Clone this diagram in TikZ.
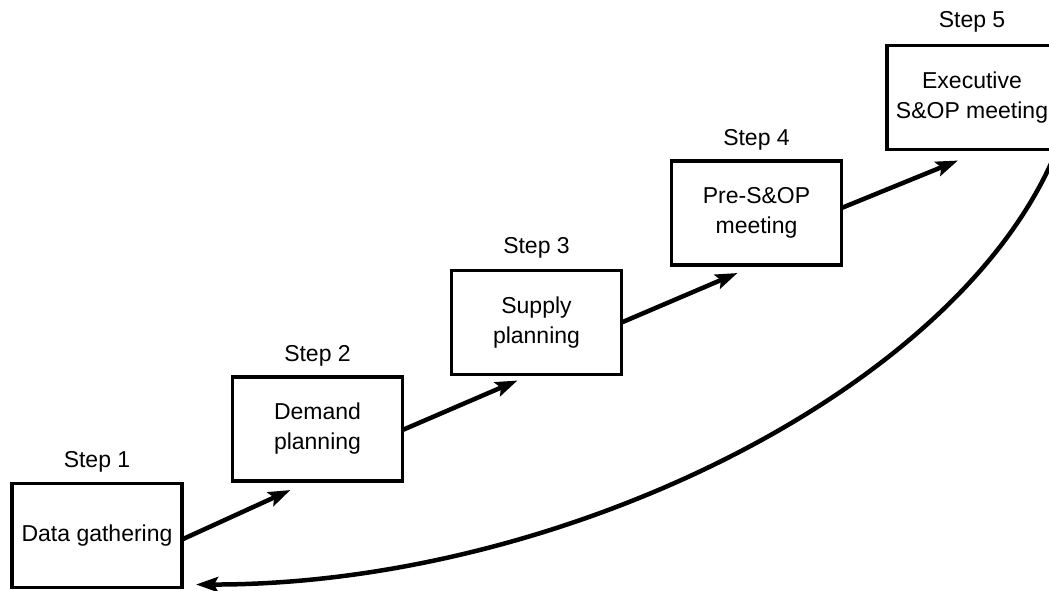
\documentclass[tikz,border=0pt]{standalone}
\usepackage{fontspec}
\setmainfont{Liberation Sans}
\usetikzlibrary{arrows.meta}
\begin{document}
\begin{tikzpicture}[x=1pt,y=-1pt,
  stepbox/.style={draw,line width=3.5pt,minimum width=170pt,minimum height=104pt,inner sep=0pt,outer sep=0pt,align=center,font=\fontsize{23}{30}\selectfont},
  steplabel/.style={anchor=base,font=\fontsize{23}{27}\selectfont},
  flow/.style={line width=4.5pt,-{Stealth[length=22pt,width=15pt,inset=4pt]}}]
\useasboundingbox (0,0) rectangle (1049,590);
\clip (0,0) rectangle (1049,590);
\fill[white] (0,0) rectangle (1049,590);
\node[stepbox] (b1) at (97,535.5) {Data gathering};
\node[stepbox] (b2) at (317.5,429) {Demand\\planning};
\node[stepbox] (b3) at (536.5,322.5) {Supply\\planning};
\node[stepbox] (b4) at (756.5,213) {Pre-S\&OP\\meeting};
\node[stepbox] (b5) at (972,97.5) {Executive\\S\&OP meeting};
\node[steplabel] (s1) at ([yshift=16pt]b1.north) {Step 1};
\node[steplabel] (s2) at ([yshift=16pt]b2.north) {Step 2};
\node[steplabel] (s3) at ([yshift=17pt]b3.north) {Step 3};
\node[steplabel] (s4) at ([yshift=16pt]b4.north) {Step 4};
\node[steplabel] (s5) at ([yshift=18pt]b5.north) {Step 5};
\coordinate (t2) at ([shift={(58pt,-9pt)}]b2.south west);
\coordinate (t3) at ([shift={(66pt,-6pt)}]b3.south west);
\coordinate (t4) at ([shift={(66pt,-8pt)}]b4.south west);
\coordinate (t5) at ([shift={(71pt,-11pt)}]b5.south west);
\coordinate (t1) at ([shift={(14pt,3pt)}]b1.south east);
\draw[flow] ([yshift=-4pt]b1.east) -- (t2);
\draw[flow] ([yshift=-1pt]b2.east) -- (t3);
\draw[flow] (b3.east) -- (t4);
\draw[flow] ([yshift=5pt]b4.east) -- (t5);
\draw[flow] (b5.south east) .. controls (960,390) and (560,585) .. (t1);
\end{tikzpicture}
\end{document}
